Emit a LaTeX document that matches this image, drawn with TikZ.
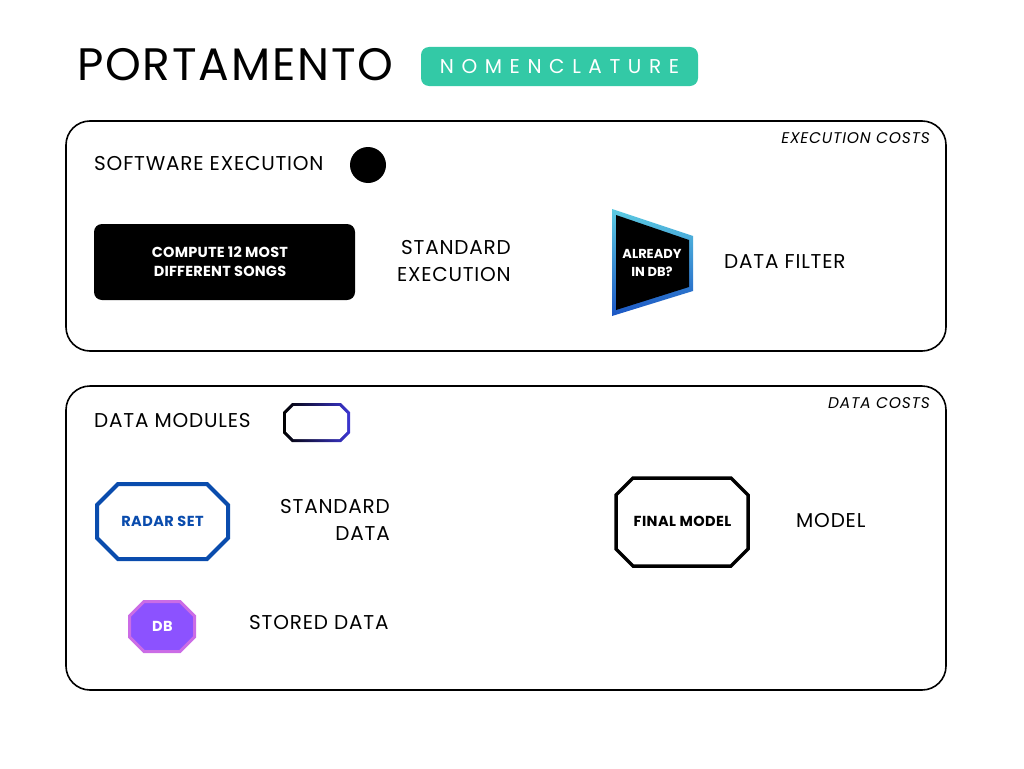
\documentclass[tikz,border=0pt]{standalone}
\usepackage{fontspec}
\setmainfont{Poppins}
\definecolor{nomgreen}{HTML}{33C9A6}
\definecolor{radarblue}{HTML}{0A4CAD}
\definecolor{dbfill}{HTML}{8C52FF}
\definecolor{dbline}{HTML}{CB6CE6}
\definecolor{filtertop}{HTML}{5CCBE2}
\definecolor{filterbot}{HTML}{1B56C4}
\definecolor{modright}{HTML}{3C36D2}
\begin{document}
\begin{tikzpicture}[x=1pt,y=-1pt,
  txt/.style={inner sep=0pt, font=\fontsize{20}{27}\selectfont\addfontfeature{LetterSpace=4}, text=black},
  corner/.style={inner sep=0pt, font=\fontsize{15.5}{17}\selectfont\itshape\addfontfeature{LetterSpace=5}, text=black},
  boldlbl/.style={inner sep=0pt, font=\fontsize{13}{18}\selectfont\bfseries, align=center},
  biglbl/.style={inner sep=0pt, font=\fontsize{14.5}{18}\selectfont\bfseries\addfontfeature{LetterSpace=3}, align=center},
  panel/.style={draw=black, line width=1.6pt, rounded corners=24pt, minimum width=880pt, inner sep=0pt},
  octline/.style={line join=miter}
]
\useasboundingbox (0,0) rectangle (1024,768);

% title
\node[inner sep=0pt, anchor=west, font=\fontsize{45.5}{50}\selectfont\addfontfeature{LetterSpace=4}] (title) at (77,65) {PORTAMENTO};
\node[fill=nomgreen, rounded corners=8pt, minimum width=277pt, minimum height=39pt, inner sep=0pt,
      text=white, font=\fontsize{20}{24}\selectfont] (badge) at (559.5,66.5)
      {\addfontfeature{LetterSpace=38}NOMENCLATURE};

% execution panel
\node[panel, minimum height=230pt] (execpanel) at (506,236) {};
\node[corner, anchor=east] (execcosts) at (930,138) {EXECUTION COSTS};
\node[txt, anchor=west] (softexec) at (94,164) {SOFTWARE EXECUTION};
\node[circle, fill=black, minimum size=36pt, inner sep=0pt] (dot) at (368,165) {};
\node[fill=black, rounded corners=8pt, minimum width=261pt, minimum height=76pt, inner sep=0pt] (compute) at (224.5,262) {};
\node[inner sep=0pt, text=white, font=\fontsize{14.5}{19}\selectfont\bfseries\addfontfeature{LetterSpace=1.5}, align=center] (computetext) at (220,261.5)
      {COMPUTE 12 MOST\\DIFFERENT SONGS};
\node[txt, anchor=east, align=right] (stdexec) at (511,261) {STANDARD\\EXECUTION};

% data filter
\shade[top color=filtertop, bottom color=filterbot]
  (612,209) -- (693,236) -- (693,291) -- (612,316) -- cycle;
\fill[black] (616,215) -- (689,240) -- (689,287) -- (616,310) -- cycle;
\node[boldlbl, text=white] (filter) at (652,263) {ALREADY\\IN DB?};
\node[txt, anchor=west] (filterlbl) at (724,262) {DATA FILTER};

% data panel
\node[panel, minimum height=304pt] (datapanel) at (506,538) {};
\node[corner, anchor=east] (datacosts) at (930,403) {DATA COSTS};
\node[txt, anchor=west] (datamod) at (94,421) {DATA MODULES};

% small module octagon (gradient border)
\shade[left color=black, right color=modright]
  (292,403) -- (341,403) -- (350,412) -- (350,433) -- (341,442) -- (292,442) -- (283,433) -- (283,412) -- cycle;
\fill[white]
  (293.5,406) -- (339.5,406) -- (347,413.5) -- (347,431.5) -- (339.5,439) -- (293.5,439) -- (286,431.5) -- (286,413.5) -- cycle;
\coordinate (module) at (316.5,422.5);

% radar set octagon
\draw[octline, draw=radarblue, line width=4pt, fill=white]
  (118,484) -- (207,484) -- (228,505) -- (228,538) -- (207,559) -- (118,559) -- (97,538) -- (97,505) -- cycle;
\node[biglbl, text=radarblue] (radar) at (162.5,521) {RADAR SET};
\node[txt, anchor=east, align=right] (stddata) at (390,520) {STANDARD\\DATA};

% DB octagon
\draw[octline, draw=dbline, fill=dbfill, line width=3pt]
  (144,601.5) -- (180,601.5) -- (194.5,616) -- (194.5,637) -- (180,651.5) -- (144,651.5) -- (129.5,637) -- (129.5,616) -- cycle;
\node[biglbl, text=white] (db) at (162.5,626.5) {DB};
\node[txt, anchor=west] (stored) at (249,623) {STORED DATA};

% final model octagon
\draw[octline, draw=black, line width=3.5pt, fill=white]
  (633,478) -- (731,478) -- (748,495) -- (748,549) -- (731,566) -- (633,566) -- (616,549) -- (616,495) -- cycle;
\node[biglbl, text=black] (final) at (682.5,521) {FINAL MODEL};
\node[txt, anchor=west] (modellbl) at (796,521) {MODEL};

\end{tikzpicture}
\end{document}
